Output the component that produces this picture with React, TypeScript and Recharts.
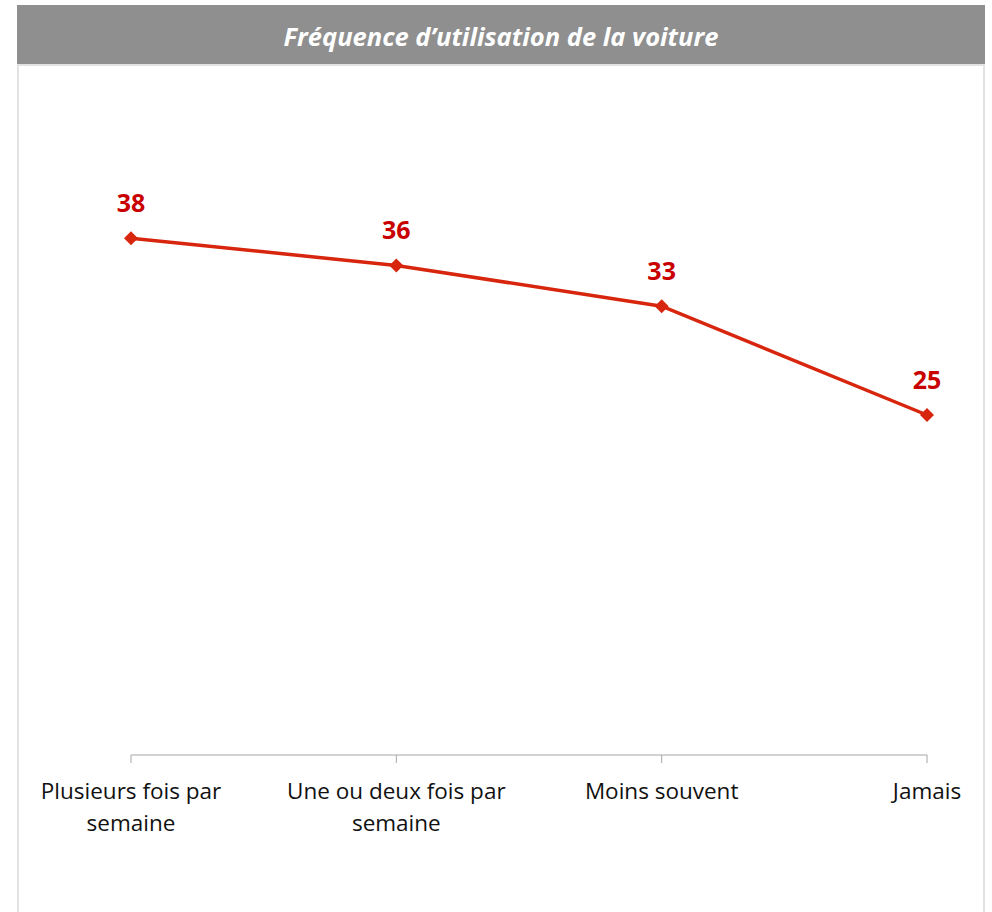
import React from "react";
import { LabelList, Line, LineChart, XAxis, YAxis } from "recharts";

const title = "Fréquence d’utilisation de la voiture";

const categories = [
  "Plusieurs fois par semaine",
  "Une ou deux fois par semaine",
  "Moins souvent",
  "Jamais",
];

const categoryLines = [
  ["Plusieurs fois par", "semaine"],
  ["Une ou deux fois par", "semaine"],
  ["Moins souvent"],
  ["Jamais"],
];

const values = [38, 36, 33, 25];

const data = categories.map((name, i) => ({ name, value: values[i] }));

const LINE_COLOR = "#d7260d";
const LABEL_COLOR = "#c80000";
const FONT = "'Open Sans', Lato, sans-serif";

function Diamond(props: any) {
  const { cx, cy } = props;
  if (cx == null || cy == null) return null;
  const r = 7;
  return (
    <polygon
      points={`${cx},${cy - r} ${cx + r},${cy} ${cx},${cy + r} ${cx - r},${cy}`}
      fill={LINE_COLOR}
    />
  );
}

function CategoryTick(props: any) {
  const { x, y, payload } = props;
  const lines = categoryLines[payload.index] || [payload.value];
  return (
    <text
      x={x}
      y={y}
      textAnchor="middle"
      fill="#111"
      fontSize={22.5}
      fontFamily={FONT}
    >
      {lines.map((l: string, i: number) => (
        <tspan key={i} x={x} dy={i === 0 ? 34 : 32}>
          {l}
        </tspan>
      ))}
    </text>
  );
}

export default function App() {
  return (
    <div
      style={{
        position: "absolute",
        left: 0,
        top: 0,
        width: 992,
        height: 912,
        background: "#fff",
        overflow: "hidden",
      }}
    >
      <div
        style={{
          position: "absolute",
          left: 17,
          top: 5,
          width: 968,
          height: 59,
          background: "#8f8f8f",
          color: "#fff",
          fontFamily: FONT,
          fontStyle: "italic",
          fontWeight: 700,
          fontSize: 25.5,
          lineHeight: "62px",
          textAlign: "center",
        }}
      >
        {title}
      </div>
      <div
        style={{
          position: "absolute",
          left: 17,
          top: 64,
          width: 964,
          height: 860,
          border: "2px solid #e2e2e2",
        }}
      />
      <div style={{ position: "absolute", left: 0, top: 0 }}>
        <LineChart
          width={992}
          height={912}
          data={data}
          margin={{ top: 75, right: 65, bottom: 97, left: 131 }}
        >
          <XAxis
            dataKey="name"
            height={60}
            stroke="#a6a6a6"
            tickSize={8}
            tickLine={{ stroke: "#a6a6a6" }}
            tick={<CategoryTick />}
            interval={0}
          />
          <YAxis hide domain={[0, 50]} />
          <Line
            dataKey="value"
            stroke={LINE_COLOR}
            strokeWidth={3.5}
            dot={<Diamond />}
            activeDot={false}
            isAnimationActive={false}
          >
            <LabelList
              dataKey="value"
              position="top"
              offset={26}
              fill={LABEL_COLOR}
              fontSize={25}
              fontWeight={700}
              fontFamily={FONT}
            />
          </Line>
        </LineChart>
      </div>
    </div>
  );
}
